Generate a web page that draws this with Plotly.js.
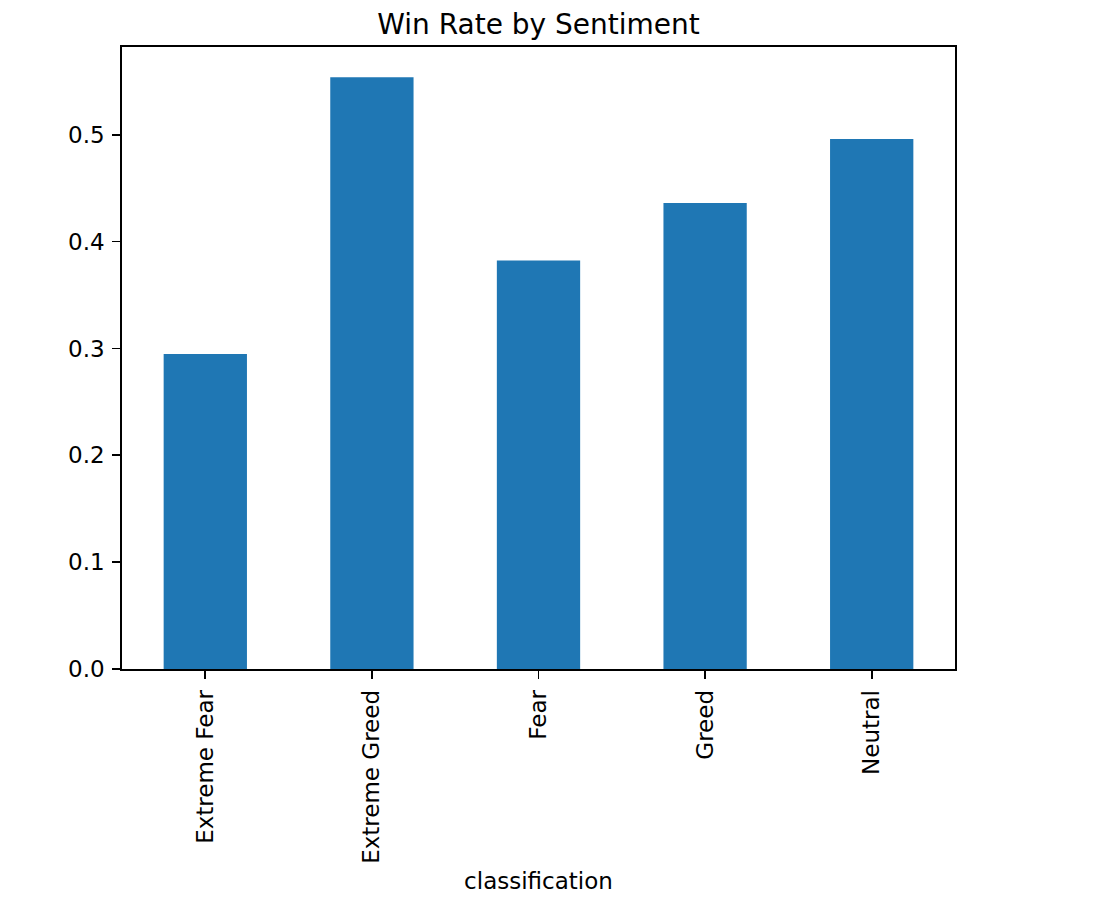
<!DOCTYPE html>
<html>
<head>
<meta charset="utf-8">
<script src="https://cdn.plot.ly/plotly-3.0.1.min.js"></script>
<style>
  html, body { margin: 0; padding: 0; background: #ffffff; }
  #graph { width: 1100px; height: 905px; }
</style>
</head>
<body>
<div id="graph"></div>
<script>
// win rate per sentiment class
var categories = ["Extreme Fear", "Extreme Greed", "Fear", "Greed", "Neutral"];
var winRate = [0.2947, 0.5537, 0.3823, 0.4360, 0.4960];
var yTicks = [0.0, 0.1, 0.2, 0.3, 0.4, 0.5];
var yTickText = ["0.0", "0.1", "0.2", "0.3", "0.4", "0.5"];

var fontFamily = "DejaVu Sans, sans-serif";

var trace_bars = {
  x: categories,
  y: winRate,
  type: 'bar',
  width: 0.5,
  marker: { color: '#1f77b4' },
  hoverinfo: 'x+y'
};

var layout = {
  width: 1100,
  height: 905,
  margin: { l: 122, r: 145, t: 47, b: 236 },
  paper_bgcolor: '#ffffff',
  plot_bgcolor: '#ffffff',
  showlegend: false,
  font: { family: fontFamily, size: 23, color: '#000000' },
  title: {
    text: 'Win Rate by Sentiment',
    font: { family: fontFamily, size: 28, color: '#000000' },
    x: 0.5, xref: 'paper', xanchor: 'center',
    y: 1 - 24 / 905, yref: 'container', yanchor: 'middle'
  },
  xaxis: {
    type: 'category',
    range: [-0.5, 4.5],
    tickangle: -90,
    ticks: 'outside',
    ticklen: 8,
    tickwidth: 1.8,
    tickcolor: '#000000',
    ticklabelstandoff: 2,
    showline: true,
    linecolor: '#000000',
    linewidth: 1.8,
    mirror: true,
    showgrid: false,
    zeroline: false,
    automargin: false,
    title: { text: 'classification', standoff: 10, font: { family: fontFamily, size: 23, color: '#000000' } }
  },
  yaxis: {
    range: [0, 0.5821],
    tickvals: yTicks,
    ticktext: yTickText,
    ticks: 'outside',
    ticklen: 8,
    tickwidth: 1.8,
    tickcolor: '#000000',
    ticklabelstandoff: 3,
    showline: true,
    linecolor: '#000000',
    linewidth: 1.8,
    mirror: true,
    showgrid: false,
    zeroline: false,
    automargin: false
  },
  bargap: 0.5
};

Plotly.newPlot('graph', [trace_bars], layout, { displayModeBar: false, staticPlot: true });
</script>
</body>
</html>
